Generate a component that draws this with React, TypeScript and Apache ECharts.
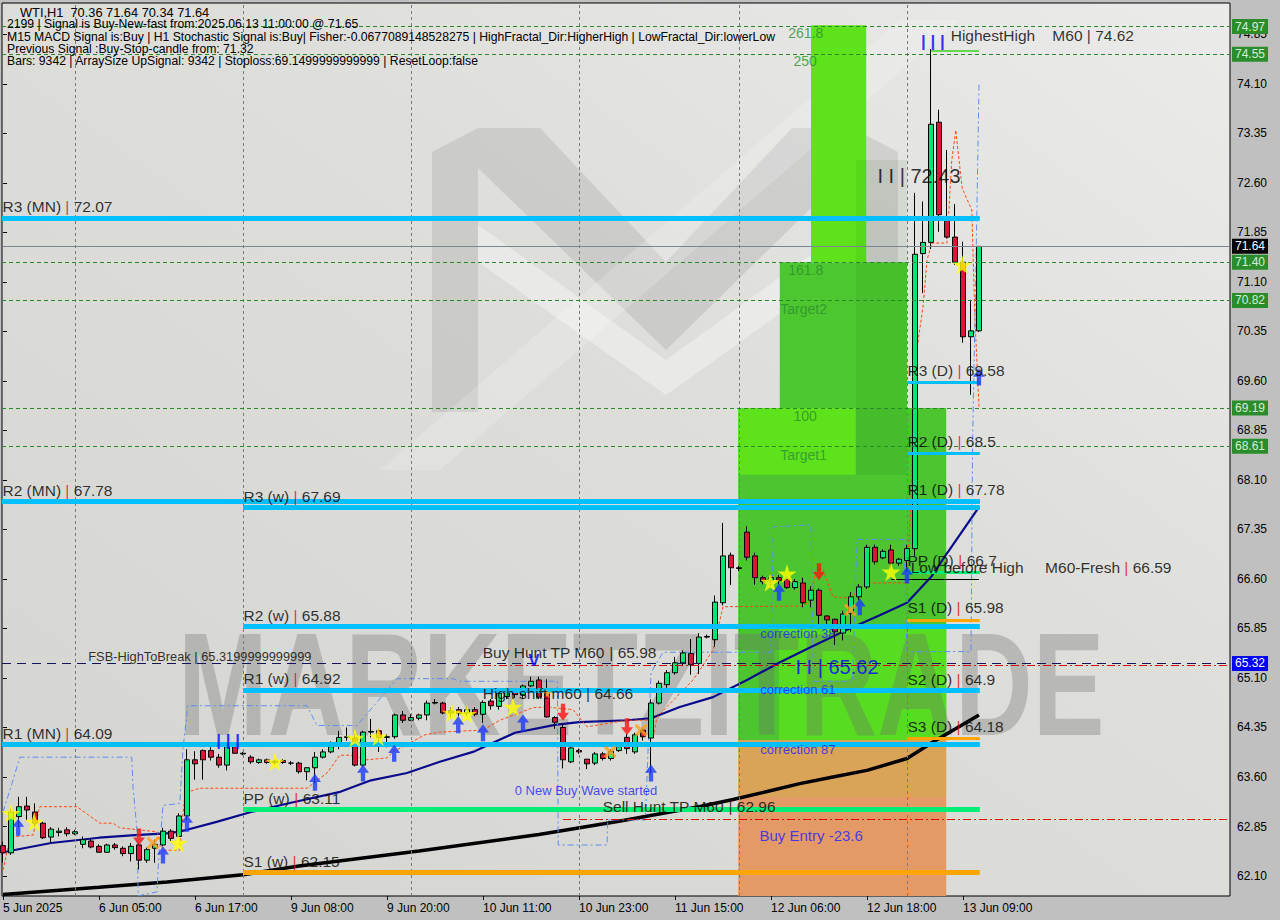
import React, { useEffect, useRef } from "react";
import * as echarts from "echarts";

// ---------- data ----------
const xTickLabels = ["5 Jun 2025", "6 Jun 05:00", "6 Jun 17:00", "9 Jun 08:00", "9 Jun 20:00", "10 Jun 11:00", "10 Jun 23:00", "11 Jun 15:00", "12 Jun 06:00", "12 Jun 18:00", "13 Jun 09:00"];
const xTickBars = [0, 12, 24, 36, 48, 60, 72, 84, 96, 108, 120];
const priceTicks = [62.10, 62.85, 63.60, 64.35, 65.10, 65.85, 66.60, 67.35, 68.10, 68.85, 69.60, 70.35, 71.10, 71.85, 72.60, 73.35, 74.10, 74.85];

// [open, high, low, close] per H1 bar
const ohlc = [
  [62.56, 62.62, 62.30, 62.45], [62.45, 63.12, 62.42, 63.07], [63.00, 63.30, 62.84, 63.15], [63.16, 63.30, 62.95, 63.10],
  [63.07, 63.20, 62.85, 62.90], [62.90, 62.92, 62.66, 62.68], [62.69, 62.84, 62.60, 62.81], [62.76, 62.83, 62.70, 62.78],
  [62.80, 62.84, 62.70, 62.74], [62.74, 62.80, 62.72, 62.77], [62.58, 62.70, 62.52, 62.65], [62.63, 62.67, 62.52, 62.54],
  [62.55, 62.58, 62.46, 62.46], [62.46, 62.59, 62.45, 62.57], [62.57, 62.60, 62.50, 62.53], [62.52, 62.55, 62.40, 62.44],
  [62.44, 62.60, 62.32, 62.55], [62.57, 62.60, 62.20, 62.34], [62.34, 62.53, 62.30, 62.50], [62.52, 62.65, 62.30, 62.58],
  [62.57, 62.83, 62.55, 62.78], [62.78, 62.81, 62.63, 62.67], [62.70, 63.05, 62.68, 63.01], [63.01, 64.02, 62.95, 63.86],
  [63.86, 63.99, 63.56, 63.80], [64.00, 64.02, 63.56, 63.86], [64.00, 64.05, 63.85, 63.90], [63.90, 63.95, 63.74, 63.78],
  [63.78, 64.12, 63.70, 64.06], [64.06, 64.08, 63.95, 63.96], [63.95, 63.98, 63.93, 63.96], [63.90, 63.93, 63.80, 63.83],
  [63.82, 63.88, 63.80, 63.86], [63.86, 63.88, 63.80, 63.82], [63.82, 63.87, 63.79, 63.84], [63.85, 63.87, 63.80, 63.82],
  [63.81, 63.84, 63.78, 63.81], [63.81, 63.83, 63.65, 63.68], [63.68, 63.75, 63.55, 63.74], [63.74, 63.98, 63.50, 63.90],
  [63.90, 64.02, 63.88, 63.98], [63.98, 64.14, 63.96, 64.06], [64.08, 64.30, 64.02, 64.20], [64.20, 64.35, 64.15, 64.21],
  [64.19, 64.25, 63.76, 63.78], [63.78, 64.30, 63.75, 64.28], [64.28, 64.48, 64.20, 64.29], [64.30, 64.33, 63.98, 64.20],
  [64.20, 64.25, 64.05, 64.21], [64.21, 64.56, 64.18, 64.54], [64.54, 64.60, 64.42, 64.46], [64.46, 64.55, 64.45, 64.50],
  [64.49, 64.56, 64.46, 64.54], [64.54, 64.76, 64.46, 64.72], [64.72, 64.78, 64.70, 64.73], [64.72, 64.74, 64.55, 64.57],
  [64.57, 64.65, 64.50, 64.60], [64.62, 64.66, 64.52, 64.56], [64.57, 64.66, 64.52, 64.62], [64.62, 64.66, 64.52, 64.55],
  [64.55, 64.76, 64.42, 64.73], [64.75, 64.78, 64.62, 64.68], [64.67, 64.94, 64.62, 64.87], [64.82, 64.95, 64.78, 64.90],
  [64.90, 64.93, 64.80, 64.85], [64.84, 65.00, 64.78, 64.98], [64.98, 65.12, 64.96, 65.05], [65.07, 65.12, 64.78, 64.81],
  [64.92, 65.08, 64.50, 64.51], [64.50, 64.52, 64.33, 64.43], [64.35, 64.40, 63.73, 63.86], [63.83, 64.06, 63.81, 64.04],
  [64.00, 64.03, 63.95, 63.98], [63.87, 63.87, 63.72, 63.80], [63.81, 63.98, 63.78, 63.95], [63.95, 63.98, 63.85, 63.88],
  [63.88, 64.02, 63.85, 63.99], [64.00, 64.10, 63.98, 64.06], [64.20, 64.25, 63.95, 64.03], [63.98, 64.27, 63.95, 64.24],
  [64.31, 64.35, 64.15, 64.21], [64.19, 64.78, 63.65, 64.72], [64.72, 65.06, 64.70, 65.02], [65.00, 65.22, 64.95, 65.18],
  [65.18, 65.42, 65.15, 65.33], [65.33, 65.52, 65.28, 65.48], [65.47, 65.69, 65.15, 65.30], [65.32, 65.78, 65.16, 65.72],
  [65.72, 65.76, 65.70, 65.73], [65.68, 66.35, 65.57, 66.25], [66.24, 67.45, 66.20, 66.95], [66.96, 67.00, 66.51, 66.77],
  [66.77, 66.80, 66.72, 66.76], [67.31, 67.40, 66.88, 66.93], [66.95, 67.00, 66.51, 66.62], [66.62, 66.65, 66.52, 66.56],
  [66.58, 66.68, 66.50, 66.62], [66.62, 66.66, 66.52, 66.58], [66.60, 66.64, 66.45, 66.47], [66.47, 66.60, 66.44, 66.56],
  [66.54, 66.62, 66.17, 66.24], [66.28, 66.49, 66.17, 66.43], [66.43, 66.46, 65.84, 66.05], [66.04, 66.05, 65.92, 65.98],
  [65.99, 66.00, 65.60, 65.80], [65.78, 66.12, 65.67, 66.07], [66.08, 66.40, 65.80, 66.33], [66.33, 66.52, 66.28, 66.48],
  [66.48, 67.12, 66.45, 67.08], [67.08, 67.12, 66.82, 66.86], [66.92, 67.05, 66.90, 67.02], [67.04, 67.12, 66.76, 66.84],
  [66.84, 66.92, 66.80, 66.90], [66.88, 67.12, 66.70, 67.06], [67.06, 72.45, 66.95, 71.52], [71.53, 72.32, 70.93, 71.70],
  [71.70, 74.63, 71.60, 73.49], [73.52, 73.71, 71.86, 72.12], [72.04, 73.10, 71.76, 71.78], [71.78, 72.28, 71.36, 71.40],
  [71.40, 71.71, 70.18, 70.27], [70.27, 70.83, 69.39, 70.36], [70.36, 71.64, 70.34, 71.64],
];

// [bar, price]
const navyMA = [[0, 62.46], [6, 62.60], [12, 62.68], [16.5, 62.72], [21, 62.75], [23, 62.80], [26.7, 62.92], [31, 63.07], [36, 63.21], [42, 63.37], [46, 63.55], [50.5, 63.66], [54.6, 63.83], [58.75, 63.98], [62, 64.16], [64, 64.27], [69, 64.39], [72, 64.43], [78, 64.46], [81, 64.49], [84.6, 64.66], [88.75, 64.81], [93, 65.07], [97, 65.33], [101, 65.57], [105.5, 65.83], [109.6, 66.05], [113, 66.24], [116, 66.63], [118, 66.99], [122, 67.69]];
const blackMA = [[0, 61.82], [12, 61.93], [20.5, 62.01], [30, 62.12], [37, 62.25], [52, 62.48], [67, 62.73], [77, 62.93], [87, 63.15], [91.25, 63.26], [95.5, 63.38], [99.6, 63.50], [103.75, 63.60], [108, 63.70], [113, 63.88], [116.25, 64.13], [122, 64.54]];
const trailLine = [[0, 62.19], [0.9, 62.69], [3.75, 62.72], [4.6, 63.15], [9.25, 63.15], [12.1, 62.90], [13.75, 62.90], [14.6, 62.83], [19.25, 62.77], [20, 62.49], [22.1, 62.49], [22.75, 63.36], [24.6, 63.43], [38, 63.43], [40.5, 63.66], [42.1, 63.93], [43.4, 63.93], [45.5, 63.86], [48, 63.89], [48.75, 63.98], [52.75, 64.24], [54.6, 64.28], [60, 64.31], [62.1, 64.46], [66.25, 64.65], [68, 64.66], [71.25, 64.62], [73, 64.36], [78, 64.46], [81, 64.46], [81.25, 64.19], [81.75, 64.51], [86.25, 65.07], [88.75, 65.52], [90, 66.18], [100, 66.19], [101.1, 66.28], [101.5, 66.71], [102.5, 66.74], [103.75, 66.33], [105.9, 66.31], [108, 66.54], [113, 66.54], [113.4, 67.54], [113.75, 68.71], [114.25, 70.10], [115, 70.72], [115.5, 71.43], [116.1, 71.69], [118, 71.69], [118.6, 72.95], [119.1, 73.40], [119.6, 72.84], [119.9, 72.52], [121.1, 72.19], [121.5, 70.52], [122, 69.21]];
const bandLine = [[0, 63.07], [1.25, 63.55], [2.1, 63.90], [16.1, 63.90], [16.25, 63.45], [16.75, 62.80], [16.9, 61.80], [19.25, 61.86], [19.4, 62.25], [20, 63.17], [22.1, 63.20], [22.5, 64.03], [23.1, 64.68], [38, 64.68], [39.25, 64.38], [44.25, 64.38], [49.25, 65.09], [56.25, 65.09], [57, 65.05], [69.3, 65.05], [69.4, 62.57], [75.5, 62.57], [75.6, 62.95], [80.3, 62.95], [81, 65.18], [82.5, 65.49], [96, 65.49], [96.3, 67.39], [101, 67.42], [101.3, 65.05], [106.2, 65.05], [106.75, 67.20], [112.6, 67.20], [113, 65.50], [121, 65.50], [121.2, 68.70], [121.6, 71.20], [122, 74.10]];

const monthlyNames = ["R3 (MN)", "R2 (MN)", "R1 (MN)"];
const monthlyValues = [72.07, 67.78, 64.09];
const weeklyNames = ["R3 (w)", "R2 (w)", "R1 (w)", "PP (w)", "S1 (w)"];
const weeklyValues = [67.69, 65.88, 64.92, 63.11, 62.15];
const dailyNames = ["R3 (D)", "R2 (D)", "R1 (D)", "PP (D)", "S1 (D)", "S2 (D)", "S3 (D)"];
const dailyValues = [69.58, 68.5, 67.78, 66.7, 65.98, 64.9, 64.18];
const targetLevels = [74.97, 74.55, 71.40, 70.82, 69.19, 68.61];
const lastPrice = 71.64;
const breakLevel = 65.32;
const buyHuntLevel = 65.29;
const sellHuntLevel = 62.96;
const highestHigh = 74.60;
const lowBeforeHigh = 66.59;
const daySeparators = [9, 30, 51, 72, 92, 113];

const starPoints = [[1, 63.05], [3.9, 62.92], [21.9, 62.60], [34, 63.83], [44, 64.19], [46.9, 64.21], [56.1, 64.57], [58, 64.55], [63.75, 64.66], [95.9, 66.55], [98, 66.68], [111, 66.71], [119.9, 71.36]];
const smallStarPoints = [[68, 64.87]];
const upArrowPoints = [[1.9, 62.84], [20, 62.42], [23, 62.90], [39, 63.52], [45, 63.66], [48.9, 63.96], [56.9, 64.39], [60, 64.27], [65, 64.42], [81, 63.66], [97, 66.40], [107.1, 66.18], [113, 66.66], [122, 69.66]];
const downArrowPoints = [[17, 62.69], [70, 64.58], [78, 64.36], [102, 66.71]];
const crossPoints = [[18.75, 62.60], [75.9, 63.98], [79.75, 64.31], [105.9, 66.13]];

// zones: [bar0, price0, bar1, price1]
const zoneBoxes = [
  [91.9, 69.19, 117.9, 64.16],
  [97.1, 71.40, 113, 69.19],
  [101, 74.99, 107.9, 71.40],
  [91.9, 69.19, 106.6, 68.18],
  [106.6, 72.95, 113, 68.18],
  [97, 65.88, 117.9, 64.16],
  [91.9, 64.16, 117.9, 61.797],
  [91.9, 64.16, 117.9, 63.30],
];

// notes: [text, bar, price]
const blueNotes = [["0 New Buy Wave started", 63.9, 63.39], ["correction 38", 94.6, 65.78], ["correction 61", 94.6, 64.93], ["correction 87", 94.6, 64.01]];
const entryNotes = [["Buy Entry -23.6", 94.5, 62.71]];
const fibNotes = [["261.8", 98.1, 74.87], ["250", 98.75, 74.45], ["161.8", 98.1, 71.28], ["Target2", 97.1, 70.69], ["100", 98.75, 69.07], ["Target1", 97.1, 68.48]];
const huntNotes = [["Buy Hunt TP M60", "65.98", 59.9, 65.49], ["High shift m60", "64.66", 59.9, 64.86], ["Sell Hunt TP M60", "62.96", 74.9, 63.15], ["HighestHigh    M60", "74.62", 118.4, 74.83]];
const freshNotes = [["Low before High     M60-Fresh", "66.59", 113.4, 66.78]];
const smallNotes = [["FSB-HighToBreak | 65.3199999999999", 10.6, 65.43]];
const bigNotes = [["I I | 72.43", 109.25, 72.71]];
const bigBlueNotes = [["I I | 65.62", 99, 65.27]];
const blueMarks = [["| | |", 26.6, 64.16], ["| | |", 114.7, 74.74], ["V", 65.6, 65.37]];

const headerLines = [
  "WTI,H1  70.36 71.64 70.34 71.64",
  "2199 | Signal is Buy-New-fast from:2025.06.13 11:00:00 @ 71.65",
  "M15 MACD Signal is:Buy | H1 Stochastic Signal is:Buy| Fisher:-0.0677089148528275 | HighFractal_Dir:HigherHigh | LowFractal_Dir:lowerLow",
  "Previous Signal :Buy-Stop-candle from: 71.32",
  "Bars: 9342 | ArraySize UpSignal: 9342 | Stoploss:69.1499999999999 | ResetLoop:false",
];

// ---------- styling ----------
const UI = "Liberation Sans, Arial, sans-serif";
const CYAN = "#00bfff";
const SPRING = "#00ee76";
const ORANGE = "#ffa500";
const X_MIN = -0.125;
const X_MAX = 153.375;
const Y_MIN = 61.797;
const Y_MAX = 75.327;

const STAR = "path://M50,0 L61,35 L98,35 L68,57 L79,91 L50,70 L21,91 L32,57 L2,35 L39,35 Z";
const UP = "path://M50,0 L100,48 L68,48 L68,100 L32,100 L32,48 L0,48 Z";
const DOWN = "path://M32,0 L68,0 L68,52 L100,52 L50,100 L0,52 L32,52 Z";
const CROSS = "path://M0,18 L18,0 L50,32 L82,0 L100,18 L68,50 L100,82 L82,100 L50,68 L18,100 L0,82 L32,50 Z";

const zoneColors = ["#4cc530", "#4dc72f", "#5ee21c", "#5ee21c", "rgba(0,70,0,0.07)", "#58dc22", "#e49a66", "rgba(205,175,70,0.45)"];

function levelColor(name: string) {
  if (name.startsWith("PP")) return SPRING;
  if (name.startsWith("S")) return ORANGE;
  return CYAN;
}

function textSeries(items: any[], label: any, z = 8) {
  return {
    type: "scatter",
    silent: true,
    z,
    symbolSize: 1,
    itemStyle: { color: "rgba(0,0,0,0)" },
    data: items,
    label: { show: true, position: "right", distance: 0, ...label },
  };
}

function buildOption() {
  const candleData = ohlc.map((r, i) => [i, r[0], r[3], r[2], r[1]]);

  const levelSegs: any[] = [];
  const levelLabels: any[] = [];
  const lvlRich = {
    t: { color: "#000", fontSize: 15.5, fontFamily: UI },
    p: { color: "#e00010", fontSize: 15.5, fontFamily: UI },
    k: { color: "#000", fontSize: 15.5, fontFamily: UI },
  };
  const addLevel = (name: string, v: number, x0: number, x1: number, width: number, color: string, dy: number) => {
    levelSegs.push([
      { coord: [x0, v], lineStyle: { color, width, type: "solid" } },
      { coord: [x1, v] },
    ]);
    levelLabels.push({
      value: [x0, v],
      label: { formatter: `{t|${name} }{p||}{t| ${v}}`, offset: [0, dy] },
    });
  };
  dailyNames.forEach((n, i) => addLevel(n, dailyValues[i], 113, 122.1, 3, levelColor(n), -12));
  monthlyNames.forEach((n, i) => addLevel(n, monthlyValues[i], X_MIN, 122.1, 5, CYAN, -11));
  weeklyNames.forEach((n, i) => addLevel(n, weeklyValues[i], 30, 122.1, 5, levelColor(n), -11));

  const boxLabel = (txt: string, bg: string, fg: string) => ({
    show: true,
    position: "end",
    distance: 2,
    formatter: txt,
    backgroundColor: bg,
    color: fg,
    padding: [2, 3, 1, 3],
    fontSize: 12,
    fontFamily: UI,
  });

  const markLines: any[] = [
    ...daySeparators.map((b) => ({ xAxis: b, lineStyle: { color: "#7a7a7a", type: [3, 3], width: 1 } })),
    ...targetLevels.map((v) => ({ yAxis: v, lineStyle: { color: "#2a8a2a", type: [4, 3], width: 1 }, label: boxLabel(v.toFixed(2), "#2b8c2b", "#d4f0d4") })),
    { yAxis: lastPrice, lineStyle: { color: "#7c8690", type: "solid", width: 1 }, label: boxLabel(lastPrice.toFixed(2), "#000", "#fff") },
    { yAxis: breakLevel, lineStyle: { color: "#14145a", type: [9, 6], width: 1 }, label: boxLabel(breakLevel.toFixed(2), "#0000ff", "#fff") },
    [{ coord: [58, buyHuntLevel], lineStyle: { color: "#e00000", type: [8, 3, 2, 3], width: 1 } }, { coord: [X_MAX, buyHuntLevel] }],
    [{ coord: [70, sellHuntLevel], lineStyle: { color: "#e00000", type: [8, 3, 2, 3], width: 1 } }, { coord: [X_MAX, sellHuntLevel] }],
    ...levelSegs,
    [{ coord: [116, highestHigh], lineStyle: { color: "#3ad41a", type: "solid", width: 1.5 } }, { coord: [122, highestHigh] }],
    [{ coord: [111, lowBeforeHigh], lineStyle: { color: "#000", type: "solid", width: 1 } }, { coord: [122, lowBeforeHigh] }],
  ];

  const zoneData = zoneBoxes.map((b, i) => [
    { coord: [b[0], b[1]], itemStyle: { color: zoneColors[i] } },
    { coord: [b[2], b[3]] },
  ]);

  const line = (data: number[][], color: string, width: number, type: any, z: number) => ({
    type: "line",
    data,
    showSymbol: false,
    symbol: "none",
    silent: true,
    z,
    lineStyle: { color, width, type },
  });

  const graphics: any[] = [
    // logo
    { type: "polygon", z: 0.5, silent: true, shape: { points: [[432, 152], [478, 128], [478, 412], [432, 412]] }, style: { fill: "rgba(150,150,150,0.26)" } },
    { type: "polygon", z: 0.5, silent: true, shape: { points: [[852, 128], [898, 152], [898, 412], [852, 412]] }, style: { fill: "rgba(150,150,150,0.26)" } },
    { type: "polygon", z: 0.5, silent: true, shape: { points: [[478, 128], [540, 128], [666, 262], [792, 128], [852, 128], [852, 168], [666, 350], [478, 168]] }, style: { fill: "rgba(150,150,150,0.26)" } },
    { type: "polygon", z: 0.5, silent: true, shape: { points: [[478, 225], [666, 360], [852, 225], [852, 262], [666, 395], [478, 262]] }, style: { fill: "rgba(255,255,255,0.35)" } },
    { type: "polygon", z: 0.5, silent: true, shape: { points: [[380, 470], [440, 470], [960, 20], [900, 20]] }, style: { fill: "rgba(255,255,255,0.18)" } },
    // watermark
    {
      type: "text", z: 1.5, silent: true, x: 178, y: 684, scaleX: 0.737,
      style: { text: "MARKETZITRADE", fontSize: 146, fontWeight: "bold", fontFamily: UI, fill: "rgba(110,110,110,0.33)", verticalAlign: "middle", align: "left" },
    },
    ...headerLines.map((t, i) => ({
      type: "text", z: 100, silent: true, x: i === 0 ? 20 : 7, y: 12 + i * 12.3,
      style: { text: t, fontSize: i === 0 ? 12.8 : 12.2, fontFamily: UI, fill: "#000", verticalAlign: "middle", align: "left" },
    })),
  ];

  return {
    animation: false,
    backgroundColor: "#c0c0c0",
    grid: {
      left: 2, right: 50, top: 3, bottom: 24, show: true, borderColor: "#000", borderWidth: 1,
      backgroundColor: { type: "linear", x: 0, y: 1, x2: 1, y2: 0, colorStops: [{ offset: 0, color: "#d4d4d0" }, { offset: 0.6, color: "#dededb" }, { offset: 1, color: "#ebebea" }] },
    },
    xAxis: {
      type: "value", min: X_MIN, max: X_MAX, splitLine: { show: false },
      axisLine: { show: false },
      axisTick: { show: true, customValues: xTickBars, length: 4, lineStyle: { color: "#000" } },
      axisLabel: {
        customValues: xTickBars, align: "left", margin: 6, fontSize: 12, fontFamily: UI, color: "#000",
        formatter: (v: number) => xTickLabels[Math.round(v / 12)] ?? "",
      },
    },
    yAxis: {
      type: "value", position: "right", min: Y_MIN, max: Y_MAX, splitLine: { show: false },
      axisLine: { show: false },
      axisTick: { show: true, customValues: priceTicks, length: 4, lineStyle: { color: "#000" } },
      axisLabel: { customValues: priceTicks, margin: 7, fontSize: 12, fontFamily: UI, color: "#000", formatter: (v: number) => v.toFixed(2) },
    },
    graphic: graphics,
    series: [
      {
        type: "line", data: [[-10, 0]], symbol: "none", silent: true, z: 1,
        markArea: { silent: true, z: 1, label: { show: false }, data: zoneData },
        markLine: { silent: true, z: 5, symbol: ["none", "none"], label: { show: false }, data: markLines },
      },
      line(blackMA, "#000", 3.5, "solid", 3),
      line(navyMA, "#0a0a8c", 2.2, "solid", 3),
      line(bandLine, "#5b8ff0", 1, [6, 3, 2, 3], 3),
      line(trailLine, "#ff4a10", 1, [3, 2], 3),
      {
        type: "candlestick", data: candleData, barWidth: 5, z: 4, silent: true,
        itemStyle: { color: "#00e676", color0: "#dc143c", borderColor: "#000", borderColor0: "#000", borderWidth: 1 },
      },
      { type: "scatter", data: starPoints, symbol: STAR, symbolSize: 19, itemStyle: { color: "#ffff00" }, z: 6, silent: true },
      { type: "scatter", data: smallStarPoints, symbol: STAR, symbolSize: 10, itemStyle: { color: "#ffb020" }, z: 6, silent: true },
      { type: "scatter", data: upArrowPoints, symbol: UP, symbolSize: [12, 17], itemStyle: { color: "#1a38ff" }, z: 6, silent: true },
      { type: "scatter", data: downArrowPoints, symbol: DOWN, symbolSize: [12, 17], itemStyle: { color: "#ff1010" }, z: 6, silent: true },
      { type: "scatter", data: crossPoints, symbol: CROSS, symbolSize: 13, itemStyle: { color: "#ffa020" }, z: 6, silent: true },
      textSeries(levelLabels, { rich: lvlRich }),
      textSeries(huntNotes.map((n) => ({ value: [n[2], n[3]], label: { formatter: `{k|${n[0]} }{k||}{k| ${n[1]}}` } })), { rich: lvlRich }),
      textSeries(freshNotes.map((n) => ({ value: [n[2], n[3]], label: { formatter: `{k|${n[0]} }{p||}{k| ${n[1]}}` } })), { rich: lvlRich }),
      textSeries(smallNotes.map((n) => ({ value: [n[1], n[2]], label: { formatter: String(n[0]) } })), { fontSize: 12.8, fontFamily: UI, color: "#000" }),
      textSeries(blueNotes.map((n) => ({ value: [n[1], n[2]], label: { formatter: String(n[0]) } })), { fontSize: 13, fontFamily: UI, color: "#1c1cff" }),
      textSeries(entryNotes.map((n) => ({ value: [n[1], n[2]], label: { formatter: String(n[0]) } })), { fontSize: 15, fontFamily: UI, color: "#1c1cff" }),
      textSeries(fibNotes.map((n) => ({ value: [n[1], n[2]], label: { formatter: String(n[0]) } })), { fontSize: 14, fontFamily: UI, color: "#2a8f2a" }),
      textSeries(bigNotes.map((n) => ({ value: [n[1], n[2]], label: { formatter: String(n[0]) } })), { fontSize: 20, fontFamily: UI, color: "#000" }),
      textSeries(bigBlueNotes.map((n) => ({ value: [n[1], n[2]], label: { formatter: String(n[0]) } })), { fontSize: 20, fontFamily: UI, color: "#0000ff" }),
      textSeries(blueMarks.map((n) => ({ value: [n[1], n[2]], label: { formatter: String(n[0]) } })), { fontSize: 17, fontWeight: "bold", fontFamily: UI, color: "#0000ff" }),
    ],
  };
}

export default function App() {
  const ref = useRef<HTMLDivElement>(null);
  useEffect(() => {
    const chart = echarts.init(ref.current as HTMLDivElement, null, { renderer: "svg" });
    chart.setOption(buildOption() as any);
    return () => chart.dispose();
  }, []);
  return <div ref={ref} style={{ position: "fixed", left: 0, top: 0, width: 1280, height: 920 }} />;
}
